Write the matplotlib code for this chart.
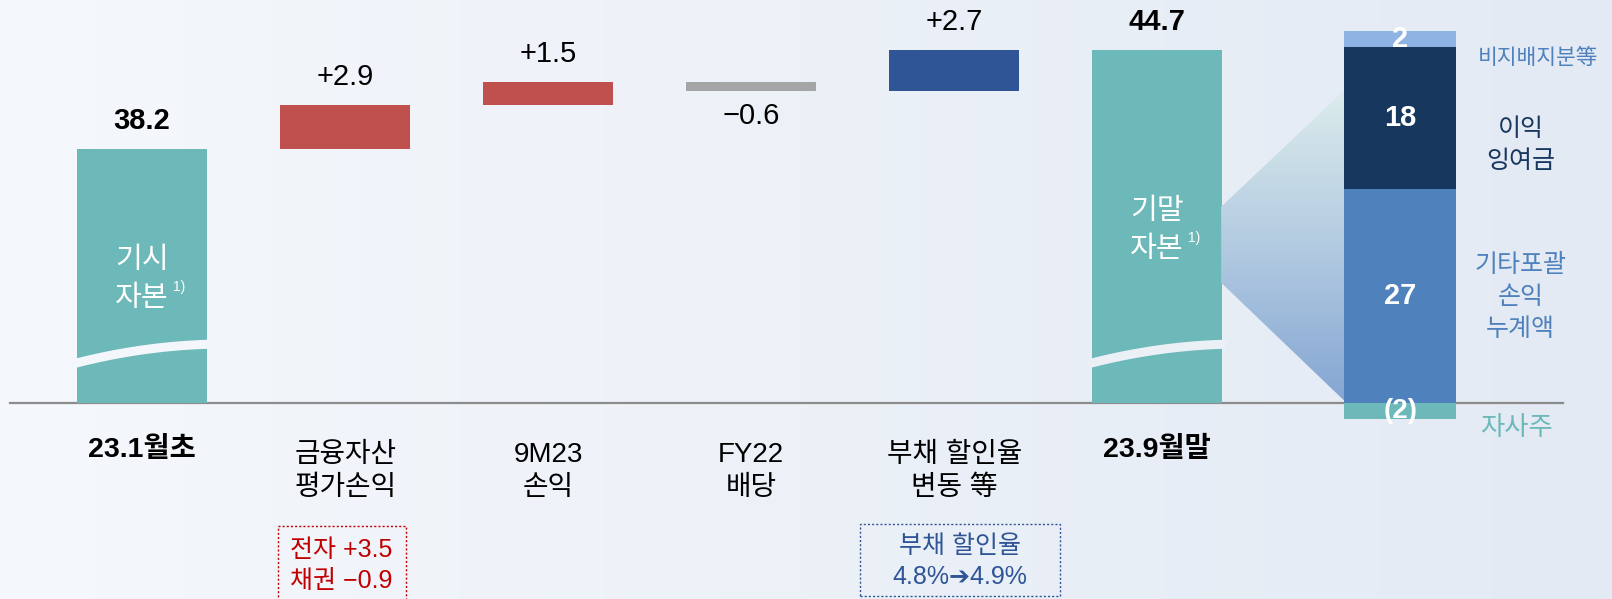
import matplotlib

matplotlib.use("Agg")
import matplotlib.pyplot as plt
import numpy as np
from matplotlib.colors import LinearSegmentedColormap
from matplotlib.patches import Polygon, Rectangle

plt.rcParams['font.family'] = ['Liberation Sans', 'Noto Sans CJK KR', 'DejaVu Sans']

# waterfall data (조원)
categories = ['23.1월초', '금융자산\n평가손익', '9M23\n손익', 'FY22\n배당', '부채 할인율\n변동 等', '23.9월말']
start_value = 38.2
end_value = 44.7
changes = [2.9, 1.5, -0.6, 2.7]
change_labels = ['+2.9', '+1.5', '−0.6', '+2.7']
change_colors = ['#c0504d', '#c0504d', '#a5a5a5', '#2f5597']
total_names = ['기시\n자본', '기말\n자본']

# breakdown of ending capital
comp_values = [27, 18, 2]
comp_labels = ['27', '18', '2']
comp_names = ['기타포괄\n손익\n누계액', '이익\n잉여금', '비지배지분等']
comp_colors = ['#4f81bd', '#17375e', '#8eb4e3']
comp_name_colors = ['#4f81bd', '#17375e', '#4f81bd']
treasury_value = -2
treasury_label = '(2)'
treasury_name = '자사주'

notes = ['전자 +3.5\n채권 −0.9', '부채 할인율\n4.8%➔4.9%']
note_colors = ['#c00000', '#2f5597']

teal = '#6db8b9'

fig = plt.figure(figsize=(16.12, 5.99), dpi=100)

# background gradient
bg = fig.add_axes([0, 0, 1, 1])
bg_cmap = LinearSegmentedColormap.from_list('bg', ['#f5f8fc', '#e3eaf4'])
bg.imshow(np.linspace(0, 1, 256).reshape(1, -1), cmap=bg_cmap, aspect='auto', extent=[0, 1, 0, 1])
bg.axis('off')

# main waterfall axes (axis broken below the bars)
ax = fig.add_axes([0, 0, 1, 1])
ax.patch.set_alpha(0)
ax.axis('off')
ax.set_xlim(-0.7, 7.24)
ax.set_ylim(8.65, 47.98)
base = 21.5
w = 0.64

ax.plot([-0.65, 7.0], [base, base], color='#8c8c8c', lw=1.6, zorder=1)

ax.bar(0, start_value - base, bottom=base, width=w, color=teal, zorder=2)
ax.bar(5, end_value - base, bottom=base, width=w, color=teal, zorder=2)

running = start_value
for i, d in enumerate(changes):
    lo = min(running, running + d)
    ax.bar(i + 1, abs(d), bottom=lo, width=w, color=change_colors[i], zorder=2)
    if d > 0:
        ax.annotate(change_labels[i], (i + 1, lo + abs(d)), xytext=(0, 20), textcoords='offset points',
                    ha='center', va='center', fontsize=21)
    else:
        ax.annotate(change_labels[i], (i + 1, lo), xytext=(0, -18), textcoords='offset points',
                    ha='center', va='center', fontsize=21)
    running += d

for x, v in [(0, start_value), (5, end_value)]:
    ax.annotate(f'{v:.1f}', (x, v), xytext=(0, 20), textcoords='offset points',
                ha='center', va='center', fontsize=21, fontweight='bold')

# axis-break waves and names inside the total bars
t = np.linspace(-0.34, 0.34, 60)
wave = 25.0 + 1.9 * t - 2.3 * t ** 2
for x, v, name, wc in [(0, start_value, total_names[0], '#f3f6fb'), (5, end_value, total_names[1], '#ebf0f7')]:
    ax.plot(x + t, wave, color=wc, lw=6.5, solid_capstyle='butt', zorder=3)
    yc = base + 0.49 * (v - base)
    ax.text(x, yc, name, ha='center', va='center', fontsize=21, color='white', linespacing=1.45, zorder=4)
    ax.annotate('1)', (x + 0.18, yc), xytext=(0, -6), textcoords='offset points',
                ha='center', va='center', fontsize=10, color='white', zorder=4)

# category labels
for i, c in enumerate(categories):
    if i in (0, 5):
        ax.text(i, 0.2487, c, transform=ax.get_xaxis_transform(), ha='center', va='center',
                fontsize=20.5, fontweight='bold')
    else:
        ax.text(i, 0.213, c, transform=ax.get_xaxis_transform(), ha='center', va='center',
                fontsize=20, linespacing=1.32)

# note boxes
for (x0, x1, y0, y1), xc, yc, txt, col in [((0.67, 1.30, -0.05, 0.122), 0.98, 0.056, notes[0], note_colors[0]),
                                           ((3.537, 4.52, 0.005, 0.125), 4.03, 0.0626, notes[1], note_colors[1])]:
    ax.add_patch(Rectangle((x0, y0), x1 - x0, y1 - y0, transform=ax.get_xaxis_transform(),
                           fill=False, edgecolor=col, lw=1, linestyle=(0, (1.5, 1.5)), clip_on=False))
    ax.text(xc, yc, txt, transform=ax.get_xaxis_transform(), ha='center', va='center',
            fontsize=18, color=col, linespacing=1.4)

# breakdown axes
ax2 = fig.add_axes([0, 0, 1, 1])
ax2.patch.set_alpha(0)
ax2.axis('off')
x2 = 6.197
w2 = 0.55

poly = Polygon([(5.315, 24.8), (5.921, 39.5), (5.921, 0.3), (5.315, 15.2)], closed=True,
               facecolor='none', edgecolor='none')
ax2.add_patch(poly)
trap_cmap = LinearSegmentedColormap.from_list('trap', ['#85a6d3', '#b3cbe1', '#dcecec'])
im = ax2.imshow(np.linspace(0, 1, 256).reshape(-1, 1), cmap=trap_cmap, origin='lower', aspect='auto',
                extent=[5.315, 5.921, 0.3, 39.5], zorder=1)
im.set_clip_path(poly)

bottom = 0
for v, lab, name, col, ncol in zip(comp_values, comp_labels, comp_names, comp_colors, comp_name_colors):
    ax2.bar(x2, v, bottom=bottom, width=w2, color=col, zorder=2)
    ax2.text(x2, bottom + v / 2, lab, ha='center', va='center', fontsize=21, fontweight='bold',
             color='white', zorder=3)
    bottom += v
ax2.bar(x2, treasury_value, bottom=0, width=w2, color=teal, zorder=2)
ax2.text(x2, treasury_value / 2, treasury_label, ha='center', va='center', fontsize=20,
         fontweight='bold', color='white', zorder=3)

ax2.text(6.875, 43.5, comp_names[2], ha='center', va='center', fontsize=15.5, color=comp_name_colors[2])
ax2.text(6.79, 32.6, comp_names[1], ha='center', va='center', fontsize=18, color=comp_name_colors[1],
         linespacing=1.4)
ax2.text(6.79, 13.4, comp_names[0], ha='center', va='center', fontsize=18, color=comp_name_colors[0],
         linespacing=1.4)
ax2.text(6.77, -3.2, treasury_name, ha='center', va='center', fontsize=19, color=teal)

ax2.set_xlim(-0.7, 7.24)
ax2.set_ylim(-24.76, 50.92)

fig.savefig('out.png', dpi=100)
